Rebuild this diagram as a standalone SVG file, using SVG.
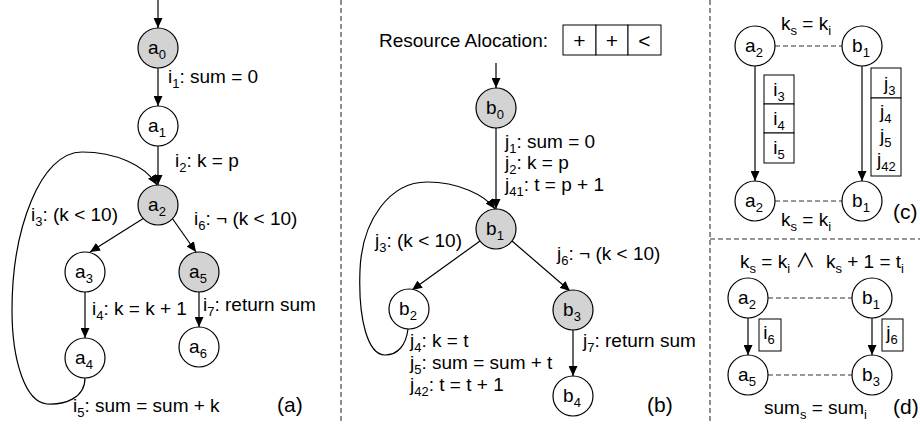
<svg xmlns="http://www.w3.org/2000/svg" width="920" height="424" viewBox="0 0 920 424">
<defs>
<style>
text{font-family:"Liberation Sans",Arial,sans-serif;font-size:19px;fill:#000}
.s{font-size:13px}
.m{text-anchor:middle}
.L{font-size:21px}
.and{font-family:"Noto Sans CJK JP","DejaVu Sans",sans-serif;font-size:20px}
.n{fill:#fff;stroke:#000;stroke-width:1.2}
.g{fill:#d3d3d3;stroke:#000;stroke-width:1.2}
.e{fill:none;stroke:#000;stroke-width:1.2}
.d{fill:none;stroke:#333;stroke-width:1.1;stroke-dasharray:5,3}
.p{fill:none;stroke:#333;stroke-width:1.1;stroke-dasharray:5,3}
.b{fill:#fff;stroke:#000;stroke-width:1}
</style>
<marker id="ah" markerUnits="userSpaceOnUse" viewBox="0 0 10 9" markerWidth="10" markerHeight="9" refX="10" refY="4.5" orient="auto">
<path d="M0,0 L10,4.5 L0,9 z" fill="#000"/>
</marker>
</defs>

<g id="panels">
<line class="p" x1="341" y1="0" x2="341" y2="424"/>
<line class="p" x1="710" y1="0" x2="710" y2="424"/>
<line class="p" x1="710" y1="239" x2="920" y2="239"/>
</g>

<g id="connectors">
<line class="e" x1="158" y1="0" x2="158" y2="28" marker-end="url(#ah)"/>
<line class="e" x1="158" y1="68" x2="158" y2="106" marker-end="url(#ah)"/>
<line class="e" x1="158" y1="145" x2="158" y2="185" marker-end="url(#ah)"/>
<line class="e" x1="144" y1="218" x2="90" y2="252" marker-end="url(#ah)"/>
<line class="e" x1="172" y1="218" x2="196" y2="252" marker-end="url(#ah)"/>
<line class="e" x1="85" y1="292" x2="85" y2="338" marker-end="url(#ah)"/>
<line class="e" x1="199" y1="292" x2="199" y2="327" marker-end="url(#ah)"/>
<path class="e" d="M85,378 C85,398 65,405 47,404 C25,402 12,360 12,310 C12,230 40,152 82,152 C115,152 145,165 157,185" marker-end="url(#ah)"/>
<line class="e" x1="496" y1="63" x2="496" y2="88" marker-end="url(#ah)"/>
<line class="e" x1="496" y1="128" x2="496" y2="209" marker-end="url(#ah)"/>
<line class="e" x1="480" y1="241" x2="412" y2="290" marker-end="url(#ah)"/>
<line class="e" x1="512" y1="241" x2="570" y2="291" marker-end="url(#ah)"/>
<line class="e" x1="573" y1="330" x2="573" y2="376" marker-end="url(#ah)"/>
<path class="e" d="M408,329 C406,345 398,355 385,355 C368,355 358,320 360,270 C362,220 390,182 427,182 C458,182 485,195 495,209" marker-end="url(#ah)"/>
<line class="e" x1="755" y1="66" x2="755" y2="181" marker-end="url(#ah)"/>
<line class="e" x1="862" y1="66" x2="862" y2="181" marker-end="url(#ah)"/>
<line class="d" x1="775" y1="46" x2="842" y2="46"/>
<line class="d" x1="775" y1="201" x2="842" y2="201"/>
<line class="e" x1="748" y1="318" x2="748" y2="355" marker-end="url(#ah)"/>
<line class="e" x1="872" y1="318" x2="872" y2="355" marker-end="url(#ah)"/>
<line class="d" x1="768" y1="298" x2="852" y2="298"/>
<line class="d" x1="768" y1="375" x2="852" y2="375"/>
</g>

<g id="a0"><circle class="g" cx="158" cy="48" r="20"/><text class="m" x="157" y="54">a<tspan class="s" dy="5">0</tspan></text></g>
<g id="a1"><circle class="n" cx="158" cy="126" r="20"/><text class="m" x="157" y="132">a<tspan class="s" dy="5">1</tspan></text></g>
<g id="a2"><circle class="g" cx="158" cy="205" r="20"/><text class="m" x="157" y="211">a<tspan class="s" dy="5">2</tspan></text></g>
<g id="a3"><circle class="n" cx="85" cy="272" r="20"/><text class="m" x="84" y="278">a<tspan class="s" dy="5">3</tspan></text></g>
<g id="a5"><circle class="g" cx="199" cy="272" r="20"/><text class="m" x="198" y="278">a<tspan class="s" dy="5">5</tspan></text></g>
<g id="a4"><circle class="n" cx="85" cy="358" r="20"/><text class="m" x="84" y="364">a<tspan class="s" dy="5">4</tspan></text></g>
<g id="a6"><circle class="n" cx="199" cy="347" r="20"/><text class="m" x="198" y="353">a<tspan class="s" dy="5">6</tspan></text></g>

<g id="labels-a">
<text x="168" y="83">i<tspan class="s" dy="5">1</tspan><tspan dy="-5">: sum = 0</tspan></text>
<text x="175" y="167">i<tspan class="s" dy="5">2</tspan><tspan dy="-5">: k = p</tspan></text>
<text x="31" y="221">i<tspan class="s" dy="5">3</tspan><tspan dy="-5">: (k &lt; 10)</tspan></text>
<text x="194" y="225">i<tspan class="s" dy="5">6</tspan><tspan dy="-5">: ¬ (k &lt; 10)</tspan></text>
<text x="92" y="315">i<tspan class="s" dy="5">4</tspan><tspan dy="-5">: k = k + 1</tspan></text>
<text x="203" y="311">i<tspan class="s" dy="5">7</tspan><tspan dy="-5">: return sum</tspan></text>
<text x="73" y="412">i<tspan class="s" dy="5">5</tspan><tspan dy="-5">: sum = sum + k</tspan></text>
<text class="L" x="277" y="412">(a)</text>
</g>

<g id="resource">
<text x="379" y="47">Resource Alocation:</text>
<rect class="b" x="563" y="25" width="33" height="30"/>
<rect class="b" x="596" y="25" width="32" height="30"/>
<rect class="b" x="628" y="25" width="33" height="30"/>
<text class="m L" x="579.5" y="48">+</text>
<text class="m L" x="612" y="48">+</text>
<text class="m L" x="644.5" y="48">&lt;</text>
</g>

<g id="b0"><circle class="g" cx="496" cy="108" r="20"/><text class="m" x="495" y="114">b<tspan class="s" dy="5">0</tspan></text></g>
<g id="b1"><circle class="g" cx="496" cy="229" r="20"/><text class="m" x="495" y="235">b<tspan class="s" dy="5">1</tspan></text></g>
<g id="b2"><circle class="n" cx="409" cy="309" r="20"/><text class="m" x="408" y="315">b<tspan class="s" dy="5">2</tspan></text></g>
<g id="b3"><circle class="g" cx="573" cy="310" r="20"/><text class="m" x="572" y="316">b<tspan class="s" dy="5">3</tspan></text></g>
<g id="b4"><circle class="n" cx="573" cy="396" r="20"/><text class="m" x="572" y="402">b<tspan class="s" dy="5">4</tspan></text></g>

<g id="labels-b">
<text x="505" y="148">j<tspan class="s" dy="5">1</tspan><tspan dy="-5">: sum = 0</tspan></text>
<text x="505" y="169">j<tspan class="s" dy="5">2</tspan><tspan dy="-5">: k = p</tspan></text>
<text x="505" y="191">j<tspan class="s" dy="5">41</tspan><tspan dy="-5">: t = p + 1</tspan></text>
<text x="375" y="247">j<tspan class="s" dy="5">3</tspan><tspan dy="-5">: (k &lt; 10)</tspan></text>
<text x="557" y="260">j<tspan class="s" dy="5">6</tspan><tspan dy="-5">: ¬ (k &lt; 10)</tspan></text>
<text x="410" y="347">j<tspan class="s" dy="5">4</tspan><tspan dy="-5">: k = t</tspan></text>
<text x="410" y="369">j<tspan class="s" dy="5">5</tspan><tspan dy="-5">: sum = sum + t</tspan></text>
<text x="410" y="391">j<tspan class="s" dy="5">42</tspan><tspan dy="-5">: t = t + 1</tspan></text>
<text x="583" y="347">j<tspan class="s" dy="5">7</tspan><tspan dy="-5">: return sum</tspan></text>
<text class="L" x="647" y="412">(b)</text>
</g>

<g id="c-a2-top"><circle class="n" cx="755" cy="46" r="20"/><text class="m" x="754" y="52">a<tspan class="s" dy="5">2</tspan></text></g>
<g id="c-b1-top"><circle class="n" cx="862" cy="46" r="20"/><text class="m" x="861" y="52">b<tspan class="s" dy="5">1</tspan></text></g>
<g id="c-a2-bot"><circle class="n" cx="755" cy="201" r="20"/><text class="m" x="754" y="207">a<tspan class="s" dy="5">2</tspan></text></g>
<g id="c-b1-bot"><circle class="n" cx="862" cy="201" r="20"/><text class="m" x="861" y="207">b<tspan class="s" dy="5">1</tspan></text></g>
<g id="c-ibox">
<rect class="b" x="764" y="75" width="30" height="29"/>
<rect class="b" x="764" y="104" width="30" height="29"/>
<rect class="b" x="764" y="133" width="30" height="30"/>
<text class="m" x="779" y="96">i<tspan class="s" dy="5">3</tspan></text>
<text class="m" x="779" y="125">i<tspan class="s" dy="5">4</tspan></text>
<text class="m" x="779" y="154">i<tspan class="s" dy="5">5</tspan></text>
</g>
<g id="c-jbox">
<rect class="b" x="871" y="68" width="30" height="30"/>
<rect class="b" x="871" y="98" width="30" height="78"/>
<text x="884" y="90">j<tspan class="s" dy="5">3</tspan></text>
<text x="880" y="118">j<tspan class="s" dy="5">4</tspan></text>
<text x="880" y="142">j<tspan class="s" dy="5">5</tspan></text>
<text x="877" y="166">j<tspan class="s" dy="5">42</tspan></text>
</g>
<g id="labels-c">
<text x="781" y="30">k<tspan class="s" dy="5">s</tspan><tspan dy="-5"> = k</tspan><tspan class="s" dy="5">i</tspan></text>
<text x="781" y="226">k<tspan class="s" dy="5">s</tspan><tspan dy="-5"> = k</tspan><tspan class="s" dy="5">i</tspan></text>
<text class="L" x="893" y="219">(c)</text>
</g>

<g id="d-a2"><circle class="n" cx="748" cy="298" r="20"/><text class="m" x="747" y="304">a<tspan class="s" dy="5">2</tspan></text></g>
<g id="d-b1"><circle class="n" cx="872" cy="298" r="20"/><text class="m" x="871" y="304">b<tspan class="s" dy="5">1</tspan></text></g>
<g id="d-a5"><circle class="n" cx="748" cy="375" r="20"/><text class="m" x="747" y="381">a<tspan class="s" dy="5">5</tspan></text></g>
<g id="d-b3"><circle class="n" cx="872" cy="375" r="20"/><text class="m" x="871" y="381">b<tspan class="s" dy="5">3</tspan></text></g>
<g id="d-boxes">
<rect class="b" x="759" y="319" width="22" height="32"/>
<rect class="b" x="882" y="319" width="21" height="32"/>
<text class="m" x="769" y="339">i<tspan class="s" dy="5">6</tspan></text>
<text class="m" x="892" y="339">j<tspan class="s" dy="5">6</tspan></text>
</g>
<g id="labels-d">
<text x="740" y="268" xml:space="preserve">k<tspan class="s" dy="5">s</tspan><tspan dy="-5"> = k</tspan><tspan class="s" dy="5">i</tspan><tspan dy="-5"> </tspan><tspan class="and">∧</tspan><tspan>  k</tspan><tspan class="s" dy="5">s</tspan><tspan dy="-5"> + 1 = t</tspan><tspan class="s" dy="5">i</tspan></text>
<text x="764" y="414">sum<tspan class="s" dy="5">s</tspan><tspan dy="-5"> = sum</tspan><tspan class="s" dy="5">i</tspan></text>
<text class="L" x="893" y="414">(d)</text>
</g>
</svg>
